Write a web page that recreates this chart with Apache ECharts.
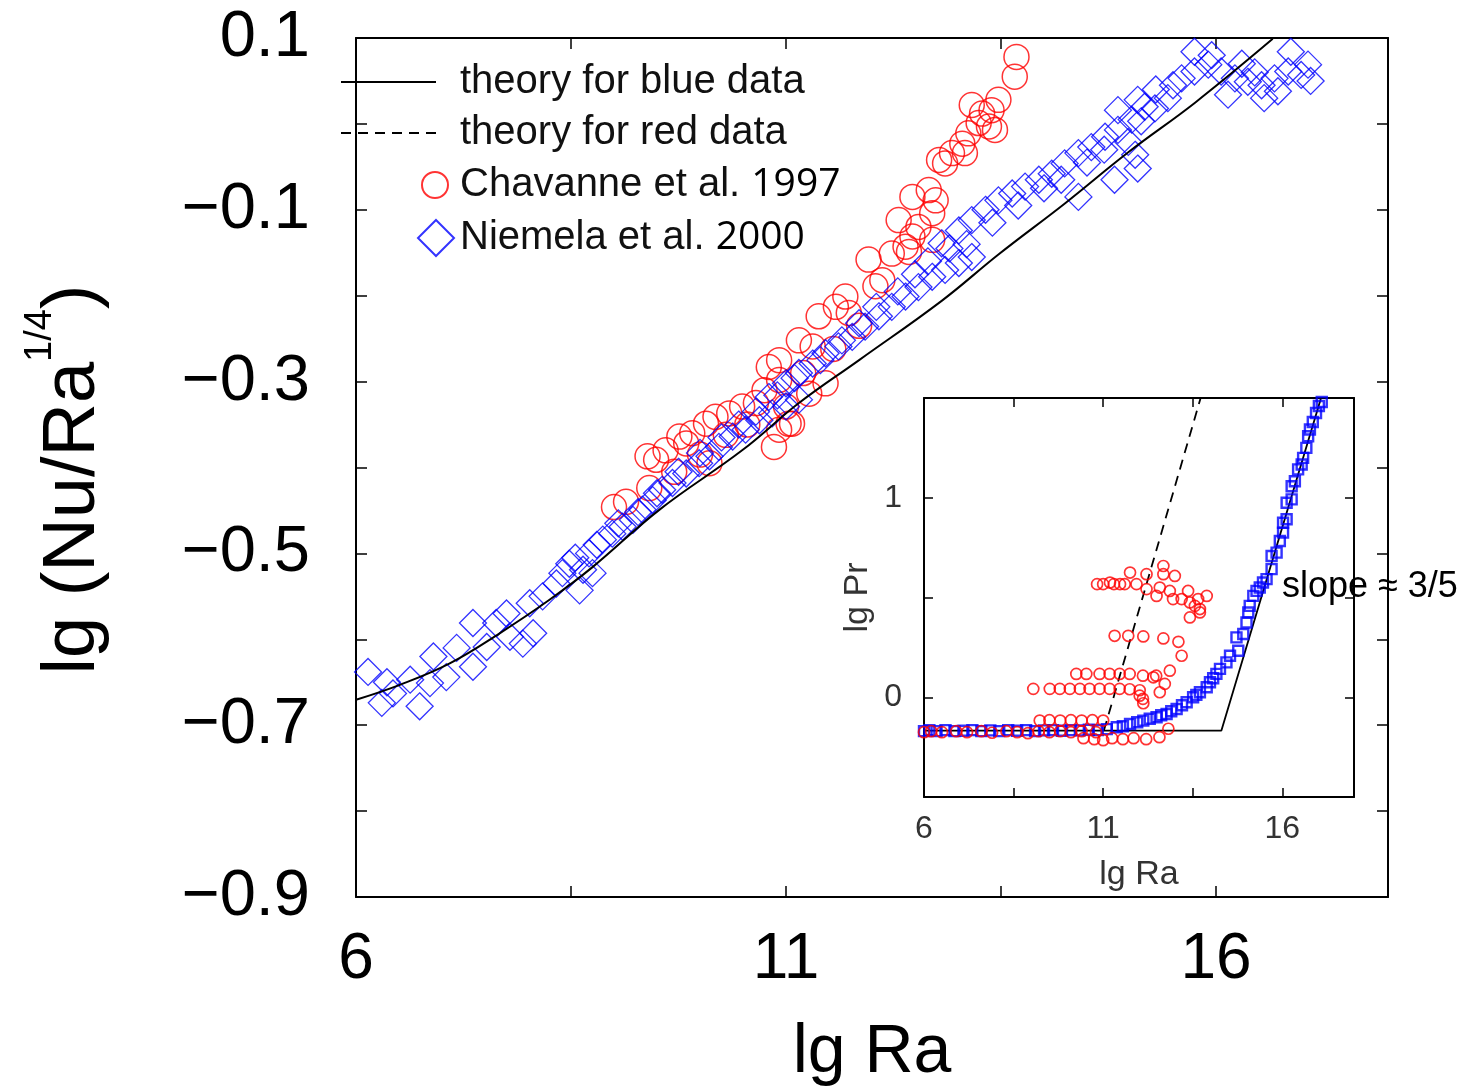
<!DOCTYPE html>
<html><head><meta charset="utf-8">
<script src="https://cdn.jsdelivr.net/npm/echarts@6/dist/echarts.min.js"></script>
<style>html,body{margin:0;padding:0;background:#fff}#c{width:1468px;height:1090px}</style>
</head><body><div id="c"></div>
<script>
const FONT = '"Liberation Sans", Arial, Helvetica, sans-serif';

// ---- tick values ----
const mainXTicks = [6, 8.5, 11, 13.5, 16];
const mainXLabels = [6, 11, 16];
const mainYLabels = [-0.9, -0.7, -0.5, -0.3, -0.1, 0.1];
const insetXTicks = [6, 8.5, 11, 13.5, 16];
const insetXLabels = [6, 11, 16];
const insetYLabels = [0, 1];

// ---- main panel: lg Ra vs lg(Nu/Ra^1/4) ----
const theoryBlueMain = [[6.01,-0.670],[6.51,-0.653],[7.09,-0.628],[7.67,-0.593],[8.25,-0.554],[8.75,-0.516],[9.53,-0.449],[10.49,-0.380],[11.15,-0.325],[11.85,-0.275],[12.81,-0.206],[13.47,-0.152],[14.25,-0.092],[14.98,-0.033],[15.76,0.025],[16.66,0.099]];

const chavanneMain = [[9.00,-0.446],[9.14,-0.440],[9.39,-0.387],[9.49,-0.391],[9.41,-0.424],[9.60,-0.380],[9.76,-0.364],[9.84,-0.372],[9.91,-0.360],[10.07,-0.349],[10.11,-0.395],[10.18,-0.341],[10.34,-0.337],[10.49,-0.329],[10.65,-0.325],[10.86,-0.376],[10.92,-0.356],[11.03,-0.349],[11.0,-0.329],[10.80,-0.283],[10.92,-0.275],[10.92,-0.298],[10.75,-0.310],[11.15,-0.252],[11.31,-0.259],[11.38,-0.224],[11.58,-0.213],[11.69,-0.201],[11.73,-0.220],[12.04,-0.189],[12.12,-0.182],[11.96,-0.158],[12.23,-0.151],[12.43,-0.149],[11.27,-0.314],[11.46,-0.302],[11.07,-0.349],[9.70,-0.405],[10.0,-0.385],[10.3,-0.362],[10.55,-0.350],[11.2,-0.290],[11.55,-0.262],[11.85,-0.235],
[13.68,0.078],[13.66,0.055],[13.47,0.028],[13.16,0.022],[13.28,0.012],[13.39,0.016],[13.36,-0.003],[13.43,-0.007],[13.24,0.001],[13.12,-0.011],[13.05,-0.023],[12.93,-0.034],[12.78,-0.042],[12.85,-0.046],[13.08,-0.034],[12.66,-0.077],[12.47,-0.085],[12.74,-0.089],[12.70,-0.104],[12.54,-0.120],[12.47,-0.131],[12.39,-0.143],[12.70,-0.135],[12.31,-0.112]];

const niemelaMain = [[6.14,-0.638],[6.36,-0.650],[6.30,-0.674],[6.43,-0.663],[6.63,-0.647],[6.74,-0.678],[6.90,-0.620],[6.86,-0.651],[7.05,-0.644],[7.17,-0.610],[7.36,-0.581],[7.36,-0.632],[7.52,-0.609],[7.63,-0.581],[7.75,-0.570],[7.79,-0.597],[7.94,-0.605],[8.06,-0.593],[8.02,-0.558],[8.17,-0.550],[8.33,-0.535],[8.40,-0.523],[8.60,-0.543],[8.64,-0.519],[8.75,-0.523],
[8.48,-0.512],[8.71,-0.500],[8.87,-0.484],[8.98,-0.477],[9.10,-0.469],[9.22,-0.461],[9.33,-0.449],[9.45,-0.438],[9.56,-0.426],[9.68,-0.418],[9.84,-0.407],[9.99,-0.395],[10.11,-0.387],[10.22,-0.376],[10.38,-0.364],[10.53,-0.356],[10.69,-0.345],[10.84,-0.337],[11.0,-0.329],[11.15,-0.321],
[8.55,-0.505],[8.80,-0.490],[9.05,-0.465],[9.28,-0.452],[9.50,-0.430],[9.75,-0.405],[10.0,-0.383],[10.25,-0.365],[10.45,-0.350],[10.65,-0.335],[10.90,-0.316],
[10.80,-0.318],[11.0,-0.302],[11.15,-0.290],[11.31,-0.279],[11.46,-0.267],[11.61,-0.259],[11.77,-0.248],[11.92,-0.236],[12.08,-0.224],[12.23,-0.213],[12.39,-0.201],[12.54,-0.190],[12.70,-0.178],[12.85,-0.170],[13.01,-0.162],[13.16,-0.155],
[11.10,-0.296],[11.40,-0.275],[11.65,-0.252],[11.85,-0.232],[12.05,-0.213],[12.30,-0.195],[12.50,-0.175],[12.65,-0.160],[12.90,-0.145],[13.10,-0.140],[13.40,-0.115],[13.70,-0.095],[14.00,-0.075],[14.20,-0.065],[14.50,-0.045],[14.70,-0.030],
[12.81,-0.139],[13.01,-0.124],[13.16,-0.112],[13.32,-0.100],[13.47,-0.089],[13.63,-0.081],[13.78,-0.073],[13.94,-0.065],[14.09,-0.058],[14.24,-0.046],[14.40,-0.034],[14.55,-0.027],[14.71,-0.015],[14.86,-0.007],[15.02,0.005],[15.17,0.020],[14.40,-0.085],[14.82,-0.065],[14.86,0.016],[15.09,0.028],
[14.98,-0.021],[15.13,0.003],[15.29,0.018],[15.44,0.030],[15.60,0.053],[15.75,0.061],[15.91,0.069],[16.06,0.061],[16.22,0.053],[16.37,0.049],[16.53,0.045],[16.68,0.053],[16.84,0.061],[16.99,0.057],[17.07,0.069],[16.87,0.084],[15.09,-0.052],[15.06,-0.036],[16.56,0.030],[16.72,0.038],[16.14,0.034],[15.75,0.084],[15.95,0.080],[15.30,0.040],[15.50,0.045],[16.30,0.070],[16.45,0.060],[17.10,0.050]];

// ---- inset: lg Ra vs lg Pr ----
const insetTheoryBlue = [[6.0,-0.167],[14.3,-0.167],[17.08,1.5]];
const insetTheoryRed = [[11.02,-0.167],[13.72,1.5]];

const niemelaPr = [[6.0,-0.17],[6.15,-0.165],[6.35,-0.17],[6.6,-0.165],[6.85,-0.17],[7.1,-0.168],[7.35,-0.165],[7.6,-0.17],[7.85,-0.166],[8.1,-0.17],[8.35,-0.165],[8.6,-0.168],[8.85,-0.165],[9.1,-0.17],[9.35,-0.166],[9.6,-0.165],[9.85,-0.168],[10.1,-0.165],[10.35,-0.166],[10.6,-0.163],[10.85,-0.165],[11.1,-0.16],
[11.38,-0.150],[11.55,-0.145],[11.75,-0.134],[11.95,-0.125],[12.12,-0.117],[12.3,-0.108],[12.49,-0.100],[12.62,-0.090],[12.77,-0.084],[12.9,-0.070],[13.05,-0.059],[13.2,-0.040],[13.33,-0.025],[13.51,0.0],[13.6,0.012],[13.70,0.025],[13.89,0.050],[13.98,0.075],[14.07,0.095],[14.16,0.117],[14.26,0.142],[14.44,0.175],[14.54,0.208],[14.77,0.233],[14.72,0.300],[14.91,0.317],[15.00,0.375],[15.05,0.425],[15.09,0.458],[15.19,0.508],[15.28,0.533],[15.37,0.550],[15.46,0.575],[15.56,0.592],[15.70,0.642],[15.70,0.708],[15.84,0.725],[15.93,0.783],[16.02,0.825],[16.02,0.875],[16.12,0.892],[16.12,0.975],[16.26,0.992],[16.26,1.058],[16.35,1.083],[16.44,1.142],[16.54,1.167],[16.58,1.200],[16.67,1.250],[16.72,1.308],[16.77,1.342],[16.85,1.380],[16.94,1.425],[17.02,1.460],[17.10,1.480]];

const chavannePr = [[6.0,-0.175],[6.2,-0.17],[6.5,-0.175],[6.9,-0.17],[7.2,-0.175],[7.6,-0.17],[7.9,-0.178],[8.3,-0.17],[8.6,-0.175],[8.9,-0.18],[9.2,-0.17],[9.5,-0.175],[9.8,-0.17],[10.1,-0.175],[10.4,-0.17],[10.8,-0.175],
[9.23,-0.117],[9.5,-0.115],[9.8,-0.117],[10.1,-0.115],[10.4,-0.117],[10.7,-0.115],[11.0,-0.117],
[10.45,-0.205],[10.75,-0.21],[11.0,-0.215],[11.25,-0.205],[11.55,-0.21],[11.85,-0.205],[12.2,-0.21],[12.57,-0.2],[12.82,-0.158],
[9.05,0.042],[9.51,0.042],[9.79,0.042],[10.07,0.042],[10.35,0.042],[10.62,0.042],[10.90,0.042],[11.18,0.042],[11.46,0.042],[11.74,0.040],[12.02,0.035],[12.02,0.008],[12.11,-0.008],[12.12,-0.03],[12.58,0.025],
[10.25,0.117],[10.53,0.117],[10.90,0.117],[11.18,0.117],[11.46,0.117],[11.74,0.117],[12.11,0.108],[12.48,0.108],[12.72,0.067],[12.86,0.133],[12.4,0.1],
[11.32,0.308],[11.70,0.308],[12.12,0.305],[12.68,0.295],[13.10,0.278],[13.19,0.208],
[10.83,0.567],[11.0,0.567],[11.19,0.575],[11.3,0.567],[11.47,0.567],[11.6,0.567],[11.75,0.625],[11.93,0.567],[12.21,0.617],[12.21,0.542],[12.49,0.508],[12.68,0.658],[12.68,0.617],[12.58,0.550],[12.86,0.533],[13.00,0.608],[12.95,0.492],[13.19,0.492],[13.37,0.533],[13.42,0.475],[13.56,0.458],[13.70,0.442],[13.65,0.492],[13.89,0.508],[13.42,0.400],[13.70,0.425]];

const chart = echarts.init(document.getElementById('c'), null, {renderer: 'canvas'});

function fmtMain(v) {
  const k = Math.round(v * 10);
  return (k < 0 ? '\u2212' : '') + '0.' + Math.abs(k);
}

function xAxisCfg(grid, pos, showLbl, ticks, labels, lblSize, lblColor, margin, tickLen) {
  return {
    type: 'value', gridIndex: grid, position: pos, min: 6, max: 18,
    axisLine: {show: true, onZero: false, lineStyle: {color: '#000', width: 2}},
    axisTick: {show: true, inside: true, length: tickLen, customValues: ticks, lineStyle: {color: '#000', width: 1.5}},
    axisLabel: {show: showLbl, customValues: labels, fontSize: lblSize, fontFamily: FONT, color: lblColor, margin: margin, lineHeight: lblSize},
    splitLine: {show: false}
  };
}

const option = {
  backgroundColor: '#fff',
  animation: false,
  title: {
    text: 'slope \u2248 3/5', left: 1282, top: 569, padding: 0,
    textStyle: {fontSize: 36, fontWeight: 'normal', fontFamily: FONT, color: '#000'}, z: 20
  },
  grid: [
    {left: 356, top: 38, right: 80, bottom: 193, containLabel: false, outerBoundsMode: 'none'},
    {left: 924, top: 398, right: 114, bottom: 293, containLabel: false, outerBoundsMode: 'none', show: true, backgroundColor: '#fff', borderWidth: 0}
  ],
  legend: [
    {
      data: ['theory for blue data', 'theory for red data'],
      orient: 'vertical', left: 340, top: 60, itemWidth: 95, itemHeight: 2, itemGap: 7,
      padding: 0, selectedMode: false,
      itemStyle: {opacity: 0},
      textStyle: {fontSize: 40, fontFamily: FONT, color: '#111', lineHeight: 44, padding: [0, 0, 0, 19]}
    },
    {
      data: ['Chavanne et al. 1997'],
      left: 421, top: 163, itemWidth: 26, itemHeight: 26, padding: 0, selectedMode: false,
      formatter: n => n.replace(/(\d{4})$/, '{y|$1}'),
      textStyle: {fontSize: 40, fontFamily: FONT, color: '#111', lineHeight: 44, padding: [0, 0, 0, 7],
        rich: {y: {fontSize: 39, fontFamily: '"Open Sans", sans-serif', color: '#000', lineHeight: 44}}}
    },
    {
      data: ['Niemela et al. 2000'],
      left: 417, top: 216, itemWidth: 36, itemHeight: 36, padding: 0, selectedMode: false,
      formatter: n => n.replace(/(\d{4})$/, '{y|$1}'),
      textStyle: {fontSize: 40, fontFamily: FONT, color: '#111', lineHeight: 44, padding: [0, 0, 0, 1],
        rich: {y: {fontSize: 39, fontFamily: '"Open Sans", sans-serif', color: '#000', lineHeight: 44}}}
    }
  ],
  xAxis: [
    Object.assign(xAxisCfg(0, 'bottom', true, mainXTicks, mainXLabels, 64, '#000', 31, 11), {
      name: 'lg Ra', nameLocation: 'middle', nameGap: 122,
      nameTextStyle: {fontSize: 68, fontFamily: FONT, color: '#000', lineHeight: 68}
    }),
    xAxisCfg(0, 'top', false, mainXTicks, mainXLabels, 64, '#000', 31, 11),
    Object.assign(xAxisCfg(1, 'bottom', true, insetXTicks, insetXLabels, 32, '#333', 16, 9), {
      name: 'lg Ra', nameLocation: 'middle', nameGap: 61,
      nameTextStyle: {fontSize: 34, fontFamily: FONT, color: '#333', lineHeight: 34}
    }),
    xAxisCfg(1, 'top', false, insetXTicks, insetXLabels, 32, '#333', 16, 9)
  ],
  yAxis: [
    {
      type: 'value', gridIndex: 0, position: 'left', min: -0.9, max: 0.1, interval: 0.1,
      axisLine: {show: true, onZero: false, lineStyle: {color: '#000', width: 2}},
      axisTick: {show: true, inside: true, length: 11, lineStyle: {color: '#000', width: 1.5}},
      axisLabel: {show: true, customValues: mainYLabels, formatter: fmtMain, fontSize: 65, fontFamily: FONT, color: '#000', margin: 46, showMinLabel: true, showMaxLabel: true},
      splitLine: {show: false},
      name: '{a|lg (Nu/Ra}{s|1/4}{a|)}', nameLocation: 'middle', nameRotate: 90, nameGap: 230,
      nameTextStyle: {
        color: '#000', fontFamily: FONT, padding: [0, 24, 0, 0],
        rich: {
          a: {fontSize: 74, fontFamily: FONT, color: '#000', lineHeight: 104},
          s: {fontSize: 38, fontFamily: FONT, color: '#000', lineHeight: 38, verticalAlign: 'top'}
        }
      }
    },
    {
      type: 'value', gridIndex: 0, position: 'right', min: -0.9, max: 0.1, interval: 0.1,
      axisLine: {show: true, onZero: false, lineStyle: {color: '#000', width: 2}},
      axisTick: {show: true, inside: true, length: 11, lineStyle: {color: '#000', width: 1.5}},
      axisLabel: {show: false}, splitLine: {show: false}
    },
    {
      type: 'value', gridIndex: 1, position: 'left', min: -0.5, max: 1.5, interval: 0.5,
      axisLine: {show: true, onZero: false, lineStyle: {color: '#000', width: 2}},
      axisTick: {show: true, inside: true, length: 9, lineStyle: {color: '#000', width: 1.5}},
      axisLabel: {show: true, customValues: insetYLabels, fontSize: 32, fontFamily: FONT, color: '#333', margin: 22},
      splitLine: {show: false},
      name: 'lg Pr', nameLocation: 'middle', nameRotate: 90, nameGap: 49,
      nameTextStyle: {fontSize: 34, fontFamily: FONT, color: '#333', lineHeight: 34}
    },
    {
      type: 'value', gridIndex: 1, position: 'right', min: -0.5, max: 1.5, interval: 0.5,
      axisLine: {show: true, onZero: false, lineStyle: {color: '#000', width: 2}},
      axisTick: {show: true, inside: true, length: 9, lineStyle: {color: '#000', width: 1.5}},
      axisLabel: {show: false}, splitLine: {show: false}
    }
  ],
  series: [
    {
      name: 'Chavanne et al. 1997', type: 'scatter', xAxisIndex: 0, yAxisIndex: 0,
      data: chavanneMain, symbol: 'circle', symbolSize: 25,
      itemStyle: {color: 'rgba(255,0,0,0)', borderColor: '#ff0000', borderWidth: 1.5}, z: 2
    },
    {
      name: 'Niemela et al. 2000', type: 'scatter', xAxisIndex: 0, yAxisIndex: 0,
      data: niemelaMain, symbol: 'diamond', symbolSize: 27,
      itemStyle: {color: 'rgba(0,0,255,0)', borderColor: '#0000ff', borderWidth: 1.3}, z: 3
    },
    {
      name: 'theory for blue data', type: 'line', xAxisIndex: 0, yAxisIndex: 0,
      data: theoryBlueMain, symbol: 'none', smooth: 0.4,
      lineStyle: {color: '#000', width: 2}, itemStyle: {color: '#000'}, z: 4
    },
    {
      name: 'theory for red data', type: 'line', xAxisIndex: 2, yAxisIndex: 2,
      data: insetTheoryRed, symbol: 'none',
      lineStyle: {color: '#000', width: 1.8, type: [10, 7]}, itemStyle: {color: '#000'}, z: 4
    },
    {
      name: 'theory for blue data', type: 'line', xAxisIndex: 2, yAxisIndex: 2,
      data: insetTheoryBlue, symbol: 'none',
      lineStyle: {color: '#000', width: 1.8}, itemStyle: {color: '#000'}, z: 4
    },
    {
      name: 'Niemela Pr', type: 'scatter', xAxisIndex: 2, yAxisIndex: 2,
      data: niemelaPr, symbol: 'rect', symbolSize: 10,
      itemStyle: {color: 'rgba(0,0,255,0)', borderColor: '#0000ff', borderWidth: 2.4}, z: 5
    },
    {
      name: 'Chavanne Pr', type: 'scatter', xAxisIndex: 2, yAxisIndex: 2,
      data: chavannePr, symbol: 'circle', symbolSize: 11,
      itemStyle: {color: 'rgba(255,0,0,0)', borderColor: '#ff0000', borderWidth: 1.7}, z: 6
    }
  ]
};
chart.setOption(option);
</script>
</body></html>
